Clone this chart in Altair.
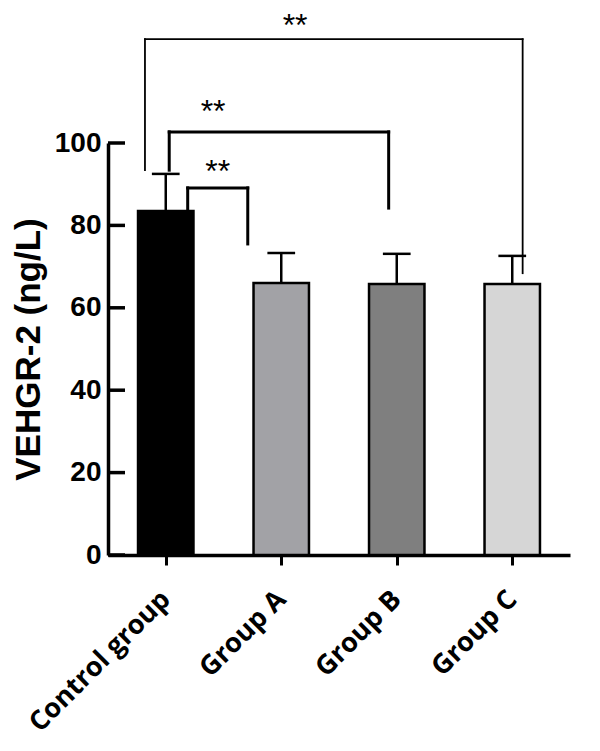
import json
import altair as alt
import pandas as pd

# ---- data ----
categories = ["Control group", "Group A", "Group B", "Group C"]
means = [83.5, 66.0, 65.8, 65.8]
sds = [9.0, 7.3, 7.3, 6.8]
bar_colors = ["#000000", "#a2a2a6", "#7f7f7f", "#d6d6d6"]

y_ticks = [0, 20, 40, 60, 80, 100]

# significance brackets: Control vs A, B, C
br_left_x = [0.19, 0.03, -0.18]
br_right_x = [0.71, 1.93, 3.09]
br_top = [89.1, 102.7, 125.2]
br_left_bottom = [83.3, 93.4, 93.4]
br_right_bottom = [75.5, 84.2, 68.4]
br_width = [3.0, 3.0, 1.8]
star_x = [0.45, 0.41, 1.12]
star_y = [96.6, 111.2, 132.0]
star_text = ["**", "**", "**"]

half_bar = 0.24
half_cap = 0.12

idx = list(range(len(categories)))
bars = pd.DataFrame({
    "cat": categories,
    "i": idx,
    "lo": [i - half_bar for i in idx],
    "hi": [i + half_bar for i in idx],
    "mean": means,
    "top": [m + s for m, s in zip(means, sds)],
    "clo": [i - half_cap for i in idx],
    "chi": [i + half_cap for i in idx],
})

segs = []
for k in range(len(br_top)):
    segs.append(dict(x=br_left_x[k], x2=br_left_x[k], y=br_left_bottom[k], y2=br_top[k], w=br_width[k]))
    segs.append(dict(x=br_left_x[k], x2=br_right_x[k], y=br_top[k], y2=br_top[k], w=br_width[k]))
    segs.append(dict(x=br_right_x[k], x2=br_right_x[k], y=br_top[k], y2=br_right_bottom[k], w=br_width[k]))
segs = pd.DataFrame(segs)
stars = pd.DataFrame({"x": star_x, "y": star_y, "t": star_text})
ticks = pd.DataFrame({"v": y_ticks})

xscale = alt.Scale(domain=[-0.5, len(categories) - 0.5], nice=False, zero=False)
yscale = alt.Scale(domain=[0, 100], nice=False)

label_expr = json.dumps(categories) + "[datum.value]"

x_axis = alt.Axis(
    values=idx, labelExpr=label_expr, title=None,
    labelAngle=-45, labelAlign="right", labelBaseline="middle",
    labelFont="Open Sans", labelFontWeight="bold", labelFontSize=27,
    labelColor="black", labelPadding=30, labelLimit=0,
    tickSize=10, tickWidth=3, tickColor="black",
    domainWidth=3.5, domainColor="black", grid=False,
)
y_axis = alt.Axis(
    values=y_ticks, title="VEHGR-2 (ng/L)",
    titleFont="Liberation Sans", titleFontWeight="bold", titleFontSize=35,
    titleColor="black", titlePadding=8,
    labelFont="Liberation Sans", labelFontWeight="bold", labelFontSize=28,
    labelColor="black", labelPadding=7,
    ticks=False, domainWidth=3.5, domainColor="black", grid=False,
)


def X(field):
    return alt.X(field, scale=xscale, axis=x_axis)


def Y(field):
    return alt.Y(field, scale=yscale, axis=y_axis)


bar_layer = alt.Chart(bars).mark_bar(stroke="black", strokeWidth=2.5, clip=False).encode(
    x=X("lo:Q"),
    x2="hi:Q",
    y=Y("mean:Q"),
    y2=alt.datum(0),
    fill=alt.Fill("cat:N", scale=alt.Scale(domain=categories, range=bar_colors), legend=None),
)

err_stem = alt.Chart(bars).mark_rule(color="black", strokeWidth=2.5, clip=False).encode(
    x=X("i:Q"),
    y=Y("mean:Q"),
    y2="top:Q",
)
err_cap = alt.Chart(bars).mark_rule(color="black", strokeWidth=2.5, clip=False).encode(
    x=X("clo:Q"),
    x2="chi:Q",
    y=Y("top:Q"),
)

bracket = alt.Chart(segs).mark_rule(color="black", strokeCap="square", clip=False).encode(
    x=X("x:Q"),
    x2="x2:Q",
    y=Y("y:Q"),
    y2="y2:Q",
    strokeWidth=alt.StrokeWidth("w:Q", scale=None, legend=None),
)

star_layer = alt.Chart(stars).mark_text(
    font="Liberation Sans", fontSize=32, color="black",
    baseline="top", align="center", clip=False,
).encode(
    x=X("x:Q"),
    y=Y("y:Q"),
    text="t:N",
)

ytick_layer = alt.Chart(ticks).mark_rule(color="black", strokeWidth=3.5, clip=False).encode(
    x=alt.value(0),
    x2=alt.value(17),
    y=Y("v:Q"),
)

chart = alt.layer(bar_layer, err_stem, err_cap, bracket, star_layer, ytick_layer).properties(
    width=462, height=412,
    autosize=alt.AutoSizeParams(type="none"),
    padding={"left": 100, "top": 135, "right": 22, "bottom": 188},
    background="white",
).configure_view(stroke=None)

chart.save("out.html", embed_options={"renderer": "svg", "actions": False})
